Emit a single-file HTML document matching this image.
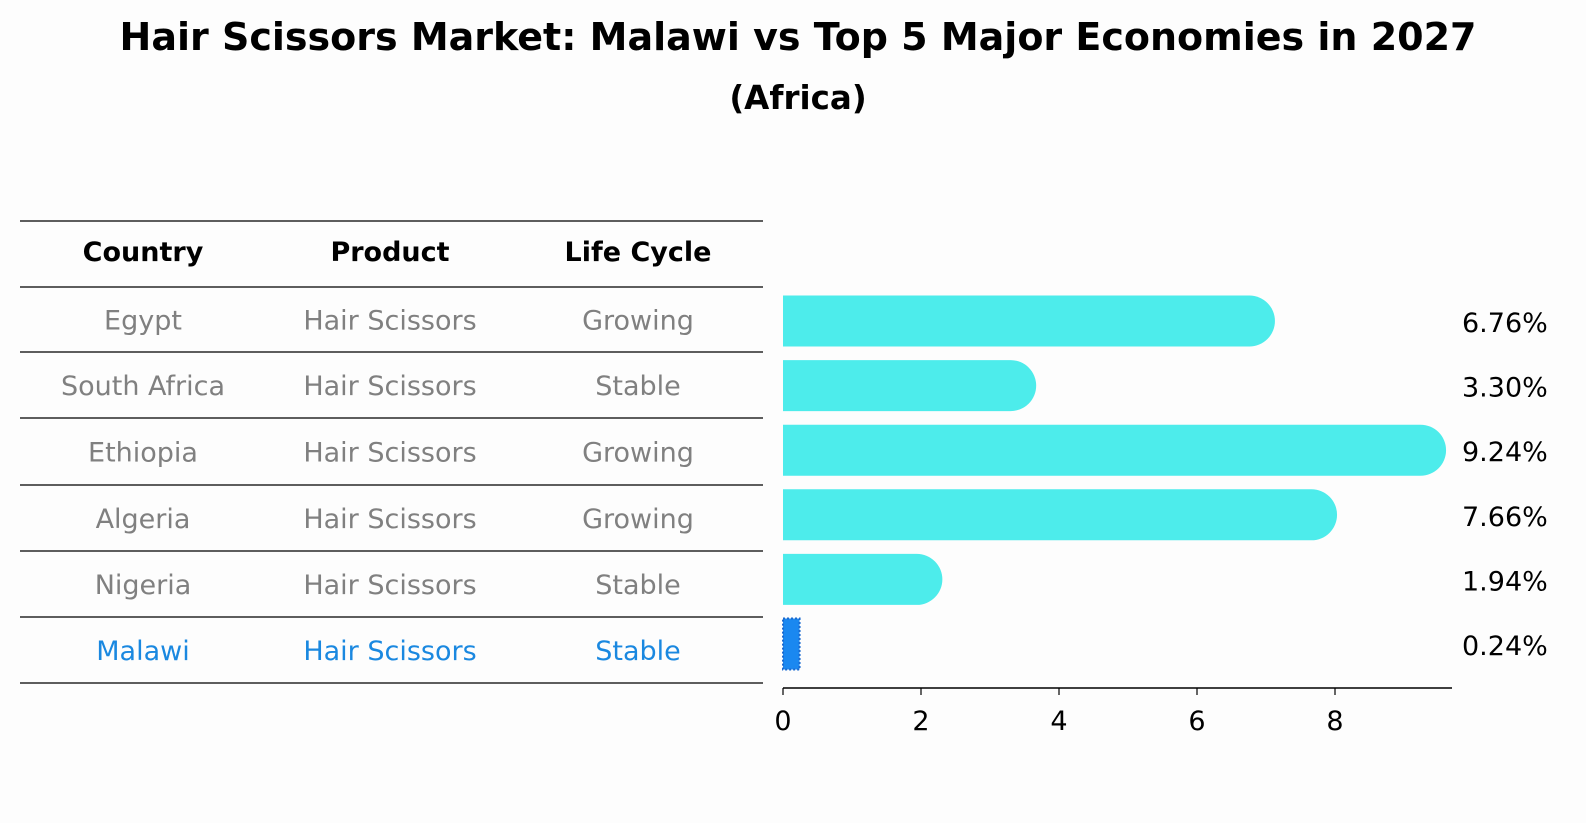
<!DOCTYPE html>
<html><head><meta charset="utf-8"><style>
html,body{margin:0;padding:0;overflow:hidden;width:1586px;height:823px;background:#fdfdfd;font-family:"DejaVu Sans","Liberation Sans",sans-serif;}
svg{display:block;}
svg text{font-family:"DejaVu Sans","Liberation Sans",sans-serif;}
</style></head><body>
<svg width="1586" height="823" xmlns="http://www.w3.org/2000/svg">
<rect width="1586" height="823" fill="#fdfdfd"/>
<text x="798" y="50" text-anchor="middle" font-size="38" font-weight="bold">Hair Scissors Market: Malawi vs Top 5 Major Economies in 2027</text>
<text x="798" y="109" text-anchor="middle" font-size="32.5" font-weight="bold">(Africa)</text>
<g id="table"></g>
<g id="bars"></g>
</svg>
<script>
const countries=["Egypt","South Africa","Ethiopia","Algeria","Nigeria","Malawi"];
const products=["Hair Scissors","Hair Scissors","Hair Scissors","Hair Scissors","Hair Scissors","Hair Scissors"];
const lifeCycles=["Growing","Stable","Growing","Growing","Stable","Stable"];
const values=[6.76,3.30,9.24,7.66,1.94,0.24];
const ticks=[0,2,4,6,8];
const NS="http://www.w3.org/2000/svg";
function mk(t,a,p,txt){const e=document.createElementNS(NS,t);for(const k in a)e.setAttribute(k,a[k]);if(txt!==undefined)e.textContent=txt;p.appendChild(e);return e;}
const tbl=document.getElementById('table'),bars=document.getElementById('bars');
const lineYs=[221,287,352,418,485,551,617,683];
const colX=[143,390,638];
lineYs.forEach((y,i)=>{const l=mk('line',{x1:20,x2:763,y1:y,y2:y,stroke:'#000','stroke-width':1.2},tbl);

});
["Country","Product","Life Cycle"].forEach((h,i)=>{const t=mk('text',{x:colX[i],y:261,'text-anchor':'middle','font-size':27,'font-weight':'bold'},tbl,h);

});
const x0=783,ppu=69,xs=v=>x0+v*ppu;
const rowY=i=>(lineYs[i+1]+lineYs[i+2])/2;
countries.forEach((c,i)=>{
 const last=i===countries.length-1,col=last?'#1a88e0':'#808080';
 [c,products[i],lifeCycles[i]].forEach((s,j)=>{const t=mk('text',{x:colX[j],y:rowY(i)+10,'text-anchor':'middle','font-size':27,fill:col},tbl,s);
 
 });
 const cy=321+i*64.6,h=51;
 let b;
 if(last){b=mk('rect',{x:x0,y:cy-h/2,width:xs(values[i])-x0,height:h,fill:'#1a88f0',stroke:'#1a6ad0','stroke-width':2,'stroke-dasharray':'2 2'},bars);}
 else{const xe=xs(values[i]),r=h/2;
 b=mk('path',{d:`M${x0},${cy-r} H${xe} A${r},${r} 0 0 1 ${xe},${cy+r} H${x0} Z`,fill:'#4deceb'},bars);}
 
 
 const t=mk('text',{x:1462,y:cy+11,'font-size':27},bars,values[i].toFixed(2)+'%');
 
 
});
const ax=mk('line',{x1:x0,x2:1452,y1:688,y2:688,stroke:'#000','stroke-width':1.5},bars);


ticks.forEach(v=>{const tk=mk('line',{x1:xs(v),x2:xs(v),y1:688,y2:695,stroke:'#000','stroke-width':1.2},bars);


const t=mk('text',{x:xs(v),y:730,'text-anchor':'middle','font-size':27},bars,String(v));

});
</script>
</body></html>
